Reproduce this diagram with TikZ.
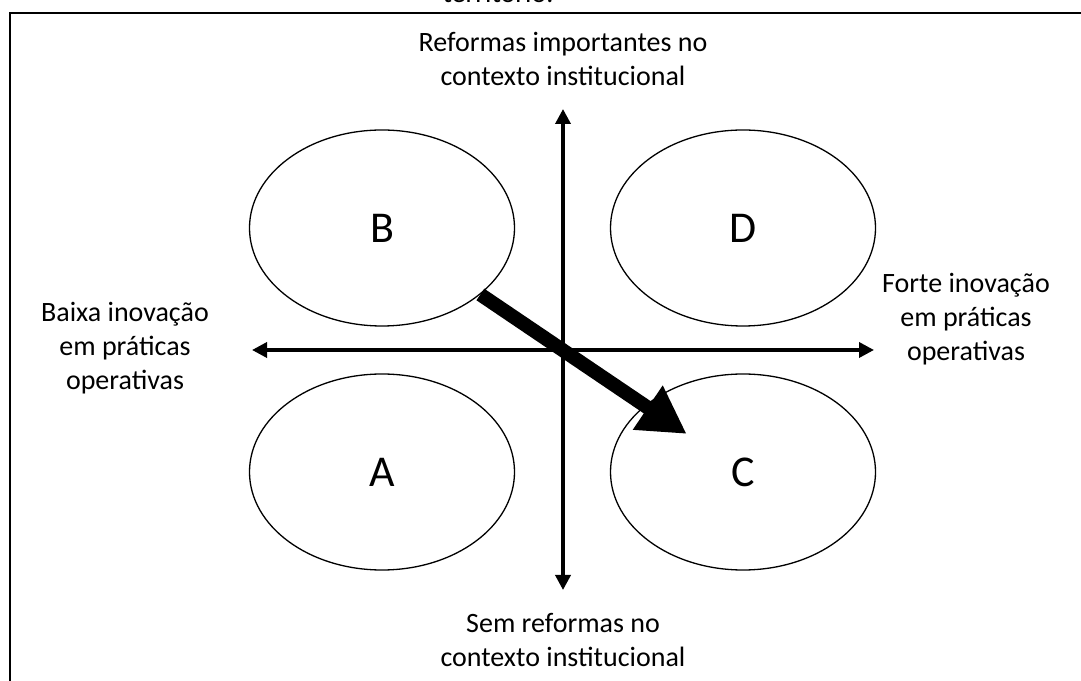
\documentclass[tikz,border=0pt]{standalone}
\usepackage{fontspec}
\setmainfont{Carlito}
\usetikzlibrary{shapes.geometric,arrows.meta}

\begin{document}
\begin{tikzpicture}[x=1pt,y=1pt,node distance=244pt,
    quad/.style={ellipse,draw,line width=1.3pt,minimum width=265pt,minimum height=196pt,inner sep=0pt,font=\fontsize{44}{44}\selectfont},
    axis/.style={line width=3.5pt,{Triangle[length=15pt,width=15pt]}-{Triangle[length=15pt,width=15pt]}},
    lbl/.style={align=center,font=\fontsize{28}{34}\selectfont},
    trend/.style={line width=14pt,-{Triangle[length=47pt,width=50pt]}}]
        \useasboundingbox (0,0) rectangle (1081,680);
        \draw[line width=2pt] (10,-10) -- (10,667) -- (1090,667);
        \node[lbl,anchor=base] (terr) at (498,677) {território.};

        \coordinate (N) at (563,571);
        \coordinate (S) at (563,90);
        \coordinate (W) at (252,330);
        \coordinate (E) at (874,330);

        \node[quad] (B) at (382,452) {B};
        \node[quad,right of=B,xshift=117pt] (D) {D};
        \node[quad,below of=B] (A) {A};
        \node[quad,below of=D] (C) {C};

        \node[lbl] (Nlbl) at (563,621) {Reformas importantes no\\contexto institucional};
        \node[lbl] (Slbl) at (563,40) {Sem reformas no\\contexto institucional};
        \node[lbl] (Wlbl) at (125,332) {Baixa inovação\\em práticas\\operativas};
        \node[lbl] (Elbl) at (966,361) {Forte inovação\\em práticas\\operativas};

        \draw[axis] (S) -- (N);
        \draw[axis] (W) -- (E);
        \draw[trend,shorten >=68pt] (B) -- (C.center);
    \end{tikzpicture}
\end{document}
